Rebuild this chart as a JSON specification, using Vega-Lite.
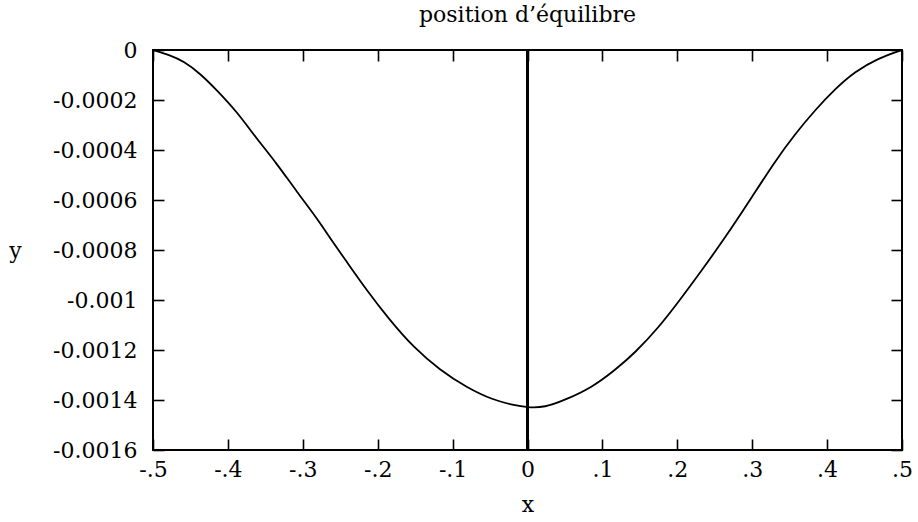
{
  "$schema": "https://vega.github.io/schema/vega-lite/v6.json",
  "width": 749,
  "height": 400,
  "autosize": "none",
  "padding": {"left": 153, "top": 50, "right": 16, "bottom": 72},
  "background": "white",
  "config": {
    "view": {"stroke": "black", "strokeWidth": 2},
    "font": "DejaVu Serif",
    "axis": {
      "domain": false,
      "grid": false,
      "ticks": true,
      "tickColor": "black",
      "tickSize": -11,
      "tickWidth": 1.6,
      "labelFont": "DejaVu Serif",
      "labelFontSize": 22,
      "labelColor": "black",
      "titleFont": "DejaVu Serif",
      "titleFontSize": 22,
      "titleFontWeight": "normal",
      "titleColor": "black"
    }
  },
  "title": {
    "text": "position d’équilibre",
    "font": "DejaVu Serif",
    "fontSize": 22,
    "fontWeight": "normal",
    "color": "black",
    "offset": 12
  },
  "data": {
    "values": [
      {"x": -0.5, "y": 0},
      {"x": -0.477, "y": -0.000021},
      {"x": -0.459, "y": -0.000045},
      {"x": -0.437, "y": -0.000094},
      {"x": -0.415, "y": -0.00016},
      {"x": -0.388, "y": -0.000247},
      {"x": -0.362, "y": -0.000353},
      {"x": -0.335, "y": -0.000453},
      {"x": -0.308, "y": -0.000567},
      {"x": -0.281, "y": -0.000673},
      {"x": -0.259, "y": -0.000773},
      {"x": -0.246, "y": -0.000827},
      {"x": -0.215, "y": -0.00096},
      {"x": -0.184, "y": -0.00108},
      {"x": -0.152, "y": -0.00119},
      {"x": -0.117, "y": -0.00128},
      {"x": -0.081, "y": -0.00135},
      {"x": -0.046, "y": -0.0014},
      {"x": -0.019, "y": -0.00142},
      {"x": 0, "y": -0.00143},
      {"x": 0.023, "y": -0.00143},
      {"x": 0.05, "y": -0.0014},
      {"x": 0.086, "y": -0.00135},
      {"x": 0.117, "y": -0.00128},
      {"x": 0.144, "y": -0.00121},
      {"x": 0.175, "y": -0.00111},
      {"x": 0.201, "y": -0.00101},
      {"x": 0.233, "y": -0.00088},
      {"x": 0.264, "y": -0.00075},
      {"x": 0.295, "y": -0.00061},
      {"x": 0.33, "y": -0.000447},
      {"x": 0.357, "y": -0.000337},
      {"x": 0.384, "y": -0.00024},
      {"x": 0.411, "y": -0.000155},
      {"x": 0.437, "y": -0.000087},
      {"x": 0.468, "y": -0.000033},
      {"x": 0.5, "y": 0}
    ]
  },
  "layer": [
    {
      "mark": {"type": "line", "color": "black", "strokeWidth": 1.8, "interpolate": "basis"},
      "encoding": {
        "x": {
          "field": "x", "type": "quantitative",
          "scale": {"domain": [-0.5, 0.5], "nice": false, "zero": false},
          "axis": {
            "orient": "bottom",
            "title": "x",
            "values": [-0.5, -0.4, -0.3, -0.2, -0.1, 0, 0.1, 0.2, 0.3, 0.4, 0.5],
            "labelExpr": "replace(replace(format(datum.value, '.1~f'), '−', '-'), '0.', '.')",
            "labelPadding": 20,
            "labelFlush": false,
            "titlePadding": 14
          }
        },
        "y": {
          "field": "y", "type": "quantitative",
          "scale": {"domain": [-0.0016, 0], "nice": false, "zero": false},
          "axis": {
            "orient": "left",
            "title": "y",
            "values": [0, -0.0002, -0.0004, -0.0006, -0.0008, -0.001, -0.0012, -0.0014, -0.0016],
            "labelExpr": "replace(format(datum.value, '.4~f'), '−', '-')",
            "labelPadding": 27,
            "labelFlush": false,
            "titleAngle": 0,
            "titleX": -138,
            "titleY": 200,
            "titleAlign": "center",
            "titleBaseline": "middle"
          }
        }
      }
    },
    {
      "mark": {"type": "line", "opacity": 0},
      "encoding": {
        "x": {
          "field": "x", "type": "quantitative",
          "scale": {"domain": [-0.5, 0.5], "nice": false, "zero": false},
          "axis": {
            "orient": "top", "title": null, "labels": false,
            "values": [-0.5, -0.4, -0.3, -0.2, -0.1, 0, 0.1, 0.2, 0.3, 0.4, 0.5]
          }
        },
        "y": {
          "field": "y", "type": "quantitative",
          "scale": {"domain": [-0.0016, 0], "nice": false, "zero": false},
          "axis": {
            "orient": "right", "title": null, "labels": false,
            "values": [0, -0.0002, -0.0004, -0.0006, -0.0008, -0.001, -0.0012, -0.0014, -0.0016]
          }
        }
      }
    },
    {
      "mark": {"type": "rule", "color": "black", "strokeWidth": 2},
      "encoding": {"x": {"datum": 0, "type": "quantitative", "axis": null}}
    }
  ],
  "resolve": {"axis": {"x": "independent", "y": "independent"}}
}
